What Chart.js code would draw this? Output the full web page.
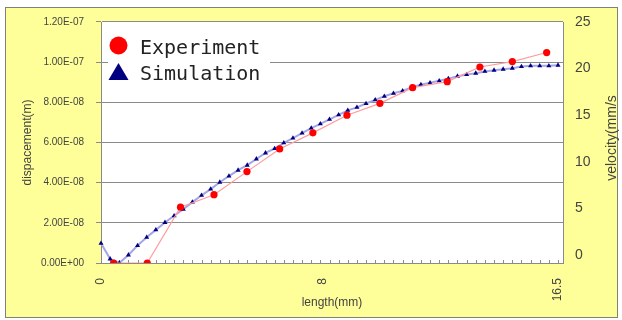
<!DOCTYPE html>
<html>
<head>
<meta charset="utf-8">
<script src="https://cdn.jsdelivr.net/npm/chart.js@4.4.1/dist/chart.umd.min.js"></script>
<style>
  html, body { margin: 0; padding: 0; background: #fff; }
</style>
</head>
<body>
<canvas id="chart" width="622" height="320"></canvas>
<script>
// length (mm) of each simulation point
const simLength = [0, 0.33, 0.66, 0.99, 1.32, 1.65, 1.98, 2.31, 2.64, 2.97,
  3.3, 3.63, 3.96, 4.29, 4.62, 4.95, 5.28, 5.61, 5.94, 6.27,
  6.6, 6.93, 7.26, 7.59, 7.92, 8.25, 8.58, 8.91, 9.24, 9.57,
  9.9, 10.23, 10.56, 10.89, 11.22, 11.55, 11.88, 12.21, 12.54, 12.87,
  13.2, 13.53, 13.86, 14.19, 14.52, 14.85, 15.18, 15.51, 15.84, 16.17, 16.5];
// simulated displacement, in 1e-8 m
const simDisp = [0.98, 0.2, 0.0, 0.4, 0.87, 1.28, 1.65, 2.02, 2.35, 2.68,
  3.03, 3.37, 3.68, 4.02, 4.33, 4.62, 4.87, 5.18, 5.48, 5.7,
  5.98, 6.22, 6.47, 6.72, 6.93, 7.15, 7.38, 7.6, 7.75, 7.94,
  8.12, 8.3, 8.45, 8.57, 8.75, 8.88, 8.97, 9.07, 9.18, 9.3,
  9.38, 9.45, 9.54, 9.6, 9.65, 9.7, 9.78, 9.82, 9.82, 9.82, 9.85];

// measured points
const expLength = [0.46, 1.67, 2.87, 4.08, 5.27, 6.45, 7.65, 8.88, 10.07, 11.25, 12.5, 13.68, 14.85, 16.09];
const expDisp = [0, 0, 2.78, 3.4, 4.55, 5.68, 6.48, 7.36, 7.95, 8.73, 9.03, 9.76, 10.03, 10.48];

const lengthTicks = [0, 8, 16.5];
const dispTicks = [0, 2, 4, 6, 8, 10, 12]; // 1e-8 m
const velTicks = [0, 5, 10, 15, 20, 25];

const GRAY = '#8a8a8a';
const TXT = '#444';
const SANS = '"Liberation Sans", Arial, sans-serif';

// 1.2e-7 -> "1.20E-07"
const sci = v => {
  const [m, e] = Number(v).toExponential(2).split('e');
  return m + 'E' + e[0] + e.slice(1).padStart(2, '0');
};

const toPoints = (xs, ys) => xs.map((x, i) => ({ x: x, y: ys[i] * 1e-8 }));

const frame = {
  id: 'frame',
  beforeDraw(chart) {
    const { ctx, chartArea: a } = chart;
    ctx.save();
    ctx.fillStyle = '#fff';
    ctx.fillRect(0, 0, chart.width, chart.height);
    ctx.fillStyle = '#ffff99';
    ctx.fillRect(5, 7, 613, 311);
    ctx.strokeStyle = '#808080';
    ctx.lineWidth = 1;
    ctx.strokeRect(5.5, 7.5, 612, 310);
    ctx.fillStyle = '#fff';
    ctx.fillRect(a.left, a.top, a.right - a.left, a.bottom - a.top);
    ctx.restore();
  },
  beforeDatasetsDraw(chart) {
    // small inward tick marks along the length axis
    const { ctx, chartArea: a } = chart;
    const x = chart.scales.x;
    ctx.save();
    ctx.strokeStyle = GRAY;
    ctx.lineWidth = 1;
    ctx.beginPath();
    simLength.forEach(v => {
      const px = Math.round(x.getPixelForValue(v)) + 0.5;
      ctx.moveTo(px, a.bottom);
      ctx.lineTo(px, a.bottom - 3);
    });
    ctx.stroke();
    ctx.restore();
  },
  afterDraw(chart) {
    const ctx = chart.ctx;
    ctx.save();
    // right axis title, reads bottom to top
    ctx.translate(612, 138);
    ctx.rotate(-Math.PI / 2);
    ctx.font = '14px ' + SANS;
    ctx.fillStyle = TXT;
    ctx.textAlign = 'center';
    ctx.textBaseline = 'middle';
    ctx.fillText('velocity(mm/s', 0, 0);
    ctx.restore();

    // legend
    ctx.save();
    ctx.fillStyle = '#fff';
    ctx.fillRect(108, 30, 162, 58);
    ctx.fillStyle = '#ff0000';
    ctx.beginPath();
    ctx.arc(118.5, 45.5, 9, 0, Math.PI * 2);
    ctx.fill();
    ctx.fillStyle = '#000080';
    ctx.beginPath();
    ctx.moveTo(118.5, 63);
    ctx.lineTo(108.5, 80);
    ctx.lineTo(128.5, 80);
    ctx.closePath();
    ctx.fill();
    ctx.font = '20px "DejaVu Sans Mono", monospace';
    ctx.fillStyle = '#222';
    ctx.textBaseline = 'alphabetic';
    ctx.fillText('Experiment', 140, 54);
    ctx.fillText('Simulation', 140, 80);
    ctx.restore();
  }
};

new Chart(document.getElementById('chart'), {
  type: 'scatter',
  data: {
    datasets: [
      {
        label: 'Experiment',
        data: toPoints(expLength, expDisp),
        showLine: true,
        borderColor: '#ff9c9c',
        borderWidth: 1.2,
        pointStyle: 'circle',
        pointRadius: 3.6,
        pointBorderWidth: 0,
        pointBackgroundColor: '#ff0000',
        clip: { left: 6, top: 0, right: 6, bottom: 0 }
      },
      {
        label: 'Simulation',
        data: toPoints(simLength, simDisp),
        showLine: true,
        borderColor: '#a4a4e8',
        borderWidth: 2,
        pointStyle: 'triangle',
        pointRadius: 2.9,
        pointBorderWidth: 0,
        pointBackgroundColor: '#000080',
        clip: { left: 6, top: 0, right: 6, bottom: 0 }
      }
    ]
  },
  options: {
    responsive: false,
    animation: false,
    devicePixelRatio: 1,
    layout: { padding: { top: 22, left: 0, right: 0, bottom: 0 } },
    plugins: {
      legend: { display: false },
      tooltip: { enabled: false }
    },
    scales: {
      x: {
        type: 'linear',
        min: 0,
        max: 16.68,
        afterBuildTicks: axis => { axis.ticks = lengthTicks.map(v => ({ value: v })); },
        afterFit: axis => { axis.height = 57; },
        grid: { display: false },
        border: { display: true, color: GRAY, width: 1 },
        ticks: {
          color: TXT,
          font: { family: SANS, size: 12 },
          minRotation: 90,
          maxRotation: 90,
          padding: 7,
          autoSkip: false,
          callback: v => String(v)
        },
        title: {
          display: true,
          text: 'length(mm)',
          color: TXT,
          font: { family: SANS, size: 12 },
          padding: { top: 0, bottom: 10 }
        }
      },
      y: {
        position: 'left',
        min: 0,
        max: 1.2e-7,
        afterBuildTicks: axis => { axis.ticks = dispTicks.map(v => ({ value: v * 1e-8 })); },
        afterFit: axis => { axis.width = 101; },
        grid: { color: GRAY, lineWidth: 1, drawTicks: true, tickLength: 5 },
        border: { display: true, color: GRAY, width: 1 },
        ticks: {
          color: TXT,
          font: { family: SANS, size: 10 },
          padding: 12,
          callback: v => sci(v)
        },
        title: {
          display: true,
          text: 'dispacement(m)',
          color: TXT,
          font: { family: SANS, size: 12 },
          padding: { top: 20, bottom: 0 }
        }
      },
      y2: {
        position: 'right',
        min: -0.86,
        max: 25,
        afterBuildTicks: axis => { axis.ticks = velTicks.map(v => ({ value: v })); },
        afterFit: axis => { axis.width = 59; },
        grid: { display: false },
        border: { display: true, color: GRAY, width: 1 },
        ticks: {
          color: TXT,
          font: { family: SANS, size: 14 },
          padding: 4
        }
      }
    }
  },
  plugins: [frame]
});
</script>
</body>
</html>
